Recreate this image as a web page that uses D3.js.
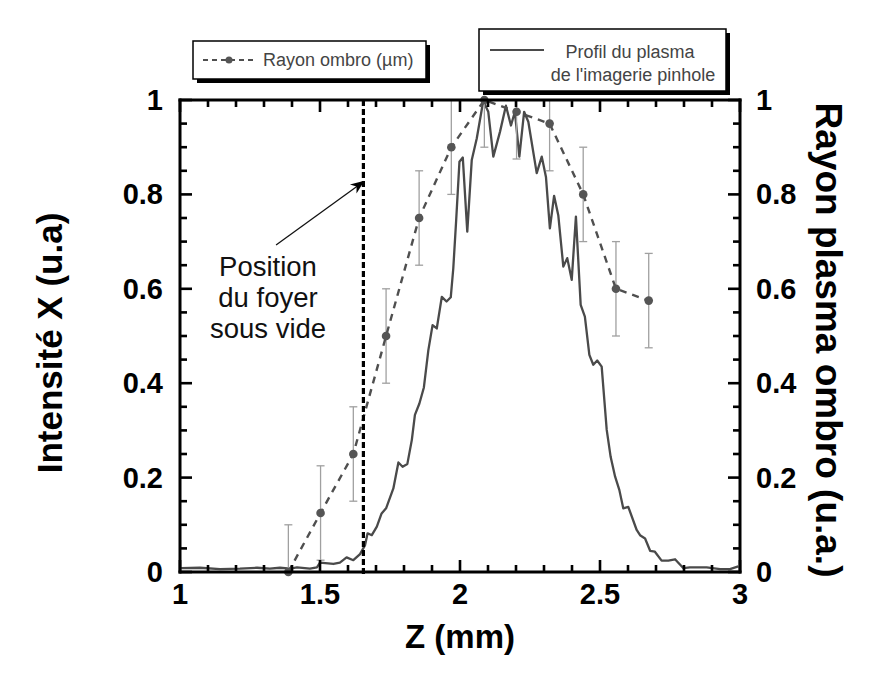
<!DOCTYPE html>
<html><head><meta charset="utf-8">
<script src="https://cdn.jsdelivr.net/npm/d3@7"></script>
<style>body{margin:0;background:#fff}svg{display:block}text{font-family:"Liberation Sans",Arial,sans-serif}</style>
</head><body><svg id="c" width="873" height="673" xmlns="http://www.w3.org/2000/svg"></svg>
<script>
// ---- data ----
const ombroZ   = [1.387,1.502,1.619,1.736,1.854,1.969,2.087,2.202,2.320,2.440,2.557,2.674];
const ombroVal = [0.0,0.125,0.25,0.5,0.75,0.9,1.0,0.975,0.95,0.8,0.6,0.575];
const ombroErr = [0.1,0.1,0.1,0.1,0.1,0.1,0.1,0.1,0.1,0.1,0.1,0.1];

const profilZ = [1.004,1.071,1.143,1.214,1.275,1.321,1.357,1.393,1.418,1.464,1.489,1.500,1.548,1.571,1.595,1.619,1.643,1.661,1.670,1.685,1.703,1.720,1.736,1.762,1.780,1.795,1.812,1.828,1.839,1.855,1.871,1.887,1.902,1.917,1.935,1.952,1.967,1.976,1.986,1.998,2.010,2.026,2.042,2.060,2.083,2.101,2.119,2.143,2.164,2.182,2.196,2.212,2.229,2.244,2.274,2.292,2.307,2.321,2.336,2.351,2.369,2.383,2.399,2.414,2.431,2.446,2.462,2.476,2.490,2.506,2.524,2.538,2.554,2.569,2.583,2.601,2.631,2.643,2.661,2.679,2.696,2.720,2.744,2.768,2.798,2.821,2.881,2.929,2.964,2.994];
const profilVal = [0.008,0.009,0.006,0.007,0.009,0.007,0.009,0.007,0.010,0.007,0.010,0.020,0.017,0.020,0.031,0.025,0.038,0.057,0.082,0.078,0.096,0.124,0.135,0.177,0.232,0.223,0.229,0.280,0.333,0.357,0.391,0.470,0.523,0.516,0.583,0.573,0.582,0.643,0.742,0.869,0.878,0.721,0.873,0.919,0.998,0.975,0.880,0.933,0.988,0.946,0.975,0.880,0.975,0.954,0.845,0.880,0.837,0.728,0.797,0.756,0.647,0.665,0.619,0.753,0.566,0.541,0.460,0.439,0.448,0.435,0.301,0.244,0.202,0.174,0.135,0.138,0.089,0.078,0.071,0.045,0.043,0.024,0.024,0.027,0.008,0.010,0.010,0.006,0.006,0.012];

const xTicks = [1,1.5,2,2.5,3];
const xTickLabels = ["1","1.5","2","2.5","3"];
const yTicks = [0,0.2,0.4,0.6,0.8,1];
const yTickLabels = ["0","0.2","0.4","0.6","0.8","1"];
const focusZ = 1.655;
const arrowFrom = [1.343,0.693], arrowTo = [1.655,0.827];
const annotLines = ["Position","du foyer","sous vide"];
const xTitle = "Z (mm)", yTitleL = "Intensité X (u.a)", yTitleR = "Rayon plasma ombro (u.a.)";
const legend1 = "Rayon ombro (µm)";
const legend2 = ["Profil du plasma","de l'imagerie pinhole"];

// ---- layout ----
const svg = d3.select("#c");
const L=180,R=740,T=100,B=572;
const x = d3.scaleLinear().domain([1,3]).range([L,R]);
const y = d3.scaleLinear().domain([0,1]).range([B,T]);

const defs = svg.append("defs");
defs.append("clipPath").attr("id","clip").append("rect")
  .attr("x",L).attr("y",T).attr("width",R-L).attr("height",B-T);
const m = defs.append("marker").attr("id","arr")
  .attr("viewBox","0 0 10 10").attr("refX",9).attr("refY",5)
  .attr("markerWidth",14).attr("markerHeight",14).attr("markerUnits","userSpaceOnUse").attr("orient","auto");
m.append("path").attr("d","M0,1 L10,5 L0,9 L3,5 Z").attr("fill","#000");

// profile line
svg.append("path").datum(d3.zip(profilZ,profilVal))
  .attr("d",d3.line().x(d=>x(d[0])).y(d=>y(d[1])))
  .attr("fill","none").attr("stroke","#4a4a4a").attr("stroke-width",2.3).attr("stroke-linejoin","round");

// error bars
const eb = svg.append("g").attr("clip-path","url(#clip)");
ombroZ.forEach((z,i)=>{
  const v=ombroVal[i], e=ombroErr[i];
  eb.append("line").attr("x1",x(z)).attr("x2",x(z)).attr("y1",y(v-e)).attr("y2",y(v+e))
    .attr("stroke","#a0a0a0").attr("stroke-width",1.3);
  [v-e,v+e].forEach(w=>eb.append("line").attr("x1",x(z)-4).attr("x2",x(z)+4).attr("y1",y(w)).attr("y2",y(w))
    .attr("stroke","#a0a0a0").attr("stroke-width",1.3));
});
// ombro dashed line
svg.append("path").datum(d3.zip(ombroZ,ombroVal))
  .attr("d",d3.line().x(d=>x(d[0])).y(d=>y(d[1])))
  .attr("fill","none").attr("stroke","#4f4f4f").attr("stroke-width",2.4).attr("stroke-dasharray","7,6");
svg.append("g").selectAll("circle").data(d3.zip(ombroZ,ombroVal)).join("circle")
  .attr("cx",d=>x(d[0])).attr("cy",d=>y(d[1])).attr("r",4.3).attr("fill","#555");

// focus line (drawn as filled dashes)
const fx = x(focusZ);
svg.append("g").selectAll("rect").data(d3.range(T,B,9)).join("rect")
  .attr("x",fx-1.6).attr("y",d=>d).attr("width",3.2).attr("height",6).attr("fill","#000");

// arrow + annotation
svg.append("line").attr("x1",x(arrowFrom[0])).attr("y1",y(arrowFrom[1]))
  .attr("x2",x(arrowTo[0])).attr("y2",y(arrowTo[1]))
  .attr("stroke","#111").attr("stroke-width",1.3).attr("marker-end","url(#arr)");
annotLines.forEach((t,i)=>svg.append("text").attr("x",268).attr("y",276+i*31)
  .attr("text-anchor","middle").attr("font-size",27.5).attr("fill","#111").text(t));

// axes: frame + inward ticks as filled rectangles (computed from the scales)
const rects = [];
const W=3, w=2.6;
rects.push([L-W/2,T-W/2,R-L+W,W],[L-W/2,B-W/2,R-L+W,W],[L-W/2,T-W/2,W,B-T+W],[R-W/2,T-W/2,W,B-T+W]);
const xMinor = d3.range(1,3.0001,0.1).map(v=>+v.toFixed(2)).filter(v=>!xTicks.some(t=>Math.abs(t-v)<1e-6));
const yMinor = d3.range(0,1.0001,0.05).map(v=>+v.toFixed(2)).filter(v=>!yTicks.some(t=>Math.abs(t-v)<1e-6));
[[xTicks,12],[xMinor,7]].forEach(([vals,len])=>vals.forEach(d=>{
  rects.push([x(d)-w/2,B-len,w,len],[x(d)-w/2,T,w,len]);
}));
[[yTicks,12],[yMinor,7]].forEach(([vals,len])=>vals.forEach(d=>{
  rects.push([L,y(d)-w/2,len,w],[R-len,y(d)-w/2,len,w]);
}));
svg.append("g").selectAll("rect").data(rects).join("rect")
  .attr("x",d=>d[0]).attr("y",d=>d[1]).attr("width",d=>d[2]).attr("height",d=>d[3]).attr("fill","#000");

const lab = svg.append("g");
function tl(sel){return sel.attr("font-size",29).attr("font-weight","bold").attr("fill","#000");}
tl(lab.selectAll(".xl").data(xTicks).join("text")).attr("x",d=>x(d)).attr("y",B+32)
  .attr("text-anchor","middle").text((d,i)=>xTickLabels[i]);
tl(lab.selectAll(".yl").data(yTicks).join("text").attr("class","yl")).attr("x",L-17).attr("y",d=>y(d)+10)
  .attr("text-anchor","end").text((d,i)=>yTickLabels[i]);
tl(lab.selectAll(".yr").data(yTicks).join("text").attr("class","yr")).attr("x",R+16).attr("y",d=>y(d)+10)
  .attr("text-anchor","start").text((d,i)=>yTickLabels[i]);

// titles
svg.append("text").attr("x",(L+R)/2).attr("y",648).attr("text-anchor","middle")
  .attr("font-size",33).attr("font-weight","bold").text(xTitle);
svg.append("text").attr("transform",`translate(62,${(T+B)/2+7}) rotate(-90)`).attr("text-anchor","middle")
  .attr("font-size",35).attr("font-weight","bold").text(yTitleL);
svg.append("text").attr("transform",`translate(816,${(T+B)/2+4}) rotate(90)`).attr("text-anchor","middle")
  .attr("font-size",37).attr("font-weight","bold").text(yTitleR);

// legends
function box(x0,y0,bw,bh){
  svg.append("rect").attr("x",x0+4).attr("y",y0+4).attr("width",bw).attr("height",bh).attr("fill","#000");
  svg.append("rect").attr("x",x0).attr("y",y0).attr("width",bw).attr("height",bh).attr("fill","#fff")
    .attr("stroke","#000").attr("stroke-width",1.5);
}
box(193,41,233,38);
svg.append("line").attr("x1",203).attr("x2",256).attr("y1",60).attr("y2",60)
  .attr("stroke","#4f4f4f").attr("stroke-width",2).attr("stroke-dasharray","5,4");
svg.append("circle").attr("cx",229).attr("cy",60).attr("r",3.5).attr("fill","#555");
svg.append("text").attr("x",263).attr("y",66).attr("font-size",18).attr("fill","#444").text(legend1);

box(479,29,247,62);
svg.append("line").attr("x1",490).attr("x2",544).attr("y1",50).attr("y2",50)
  .attr("stroke","#4a4a4a").attr("stroke-width",2);
svg.append("text").attr("x",630).attr("y",58).attr("text-anchor","middle").attr("font-size",18).attr("fill","#444").text(legend2[0]);
svg.append("text").attr("x",633).attr("y",81).attr("text-anchor","middle").attr("font-size",18).attr("fill","#444").text(legend2[1]);
</script></body></html>
